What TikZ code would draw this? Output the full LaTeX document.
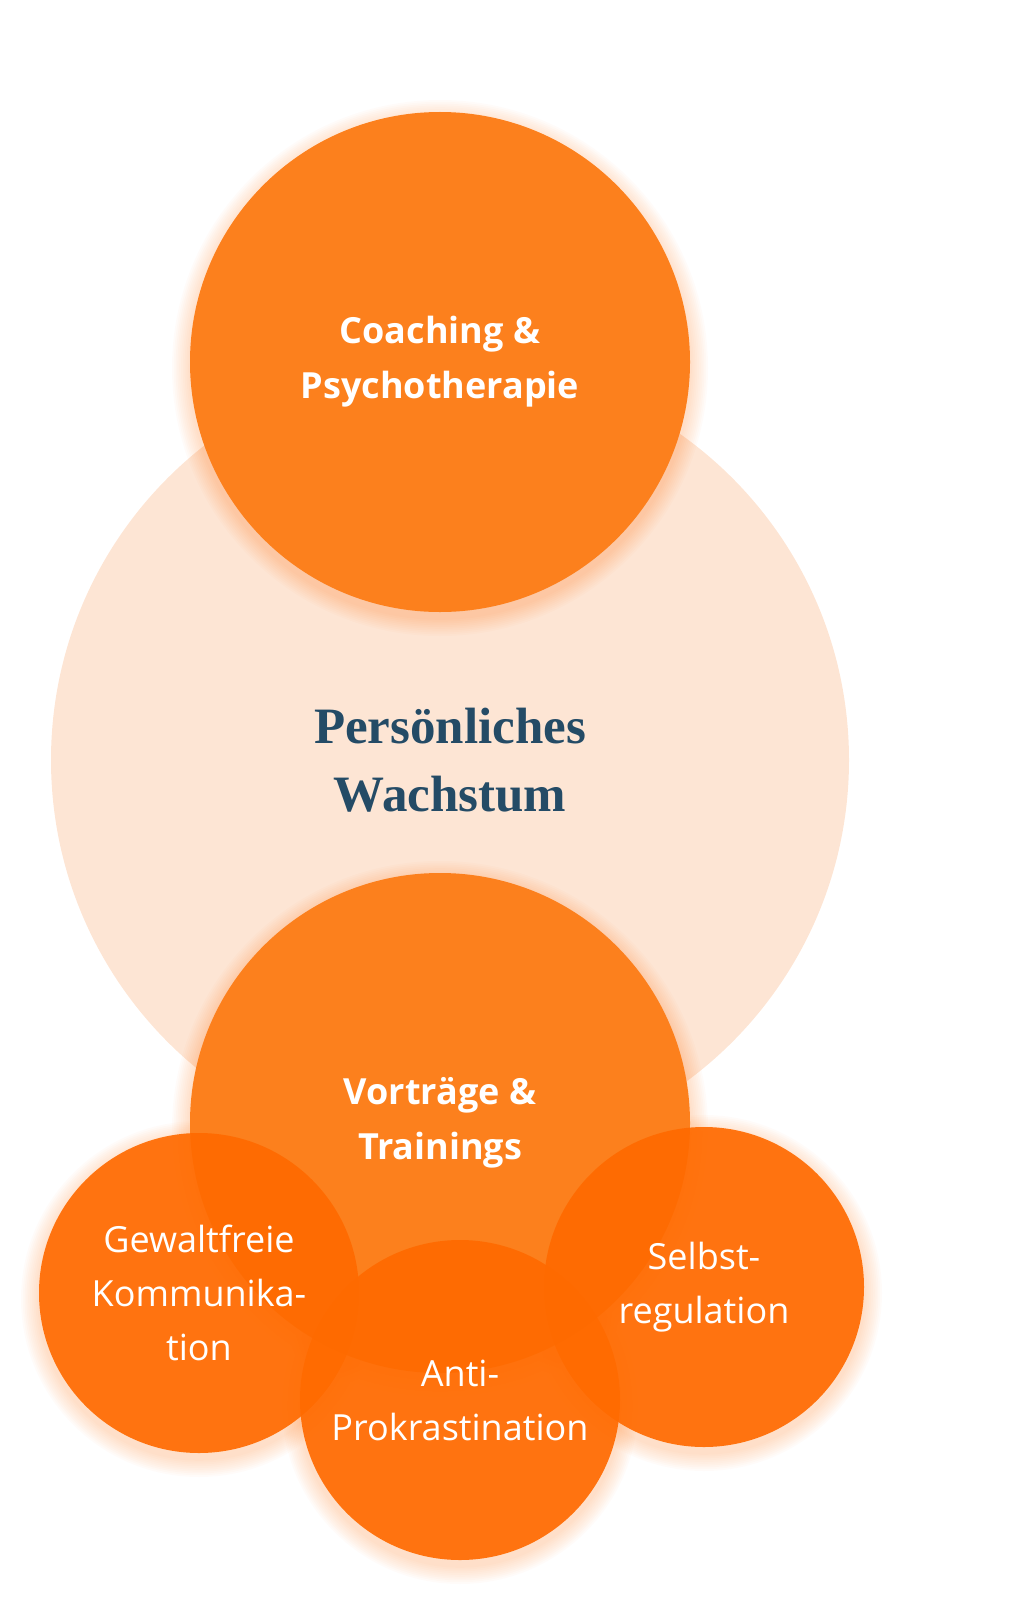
\documentclass[tikz,border=0pt]{standalone}
\usepackage{fontspec}
\setmainfont{Open Sans}
\newfontfamily\titlefont{Liberation Serif}
\usetikzlibrary{positioning}

\definecolor{peach}{HTML}{FDE5D4}
\definecolor{carrot}{HTML}{FC801D}
\definecolor{ember}{HTML}{FF6A00}
\definecolor{ink}{HTML}{244B66}

\tikzset{
  hubcircle/.style={circle, fill=peach, minimum size=798pt, inner sep=0pt, text=ink, align=center,
    font=\titlefont\bfseries\fontsize{51}{68}\selectfont},
  bigcircle/.style={circle, fill=carrot, minimum size=500pt, inner sep=0pt, text=white, align=center,
    font=\bfseries\fontsize{36}{55}\selectfont},
  smallcircle/.style={circle, fill=ember, fill opacity=0.92, text opacity=1, minimum size=320pt,
    inner sep=0pt, text=white, align=center, font=\fontsize{36}{54}\selectfont},
  glow/.style={fill=ember, opacity=0.025}
}

\begin{document}
\begin{tikzpicture}[x=1pt, y=-1pt]

\useasboundingbox (0,0) rectangle (1009,1605);

\coordinate (hubc) at (450,760);
\coordinate (coachc) at (440,362);
\coordinate (talkc) at (440,1123);
\coordinate (gfkc) at (199,1293);
\coordinate (antic) at (460,1400);
\coordinate (selfc) at (704,1287);

\node [hubcircle] (hub) at (hubc) {Persönliches\\ Wachstum};

% soft glow under the orange circles
\foreach \p/\r in {coachc/250, talkc/250, gfkc/160, antic/160, selfc/160}
  \foreach \k in {1,...,10}
    \fill [glow] ([yshift=-6pt]\p) circle ({\r+1.8*\k pt});

\node [bigcircle] (coach) at (coachc) {Coaching \&\\ Psychotherapie};
\node [bigcircle] (talk) at (talkc) {Vorträge \&\\ Trainings};

\node [smallcircle] (gfk) at (gfkc) {Gewaltfreie\\ Kommunika-\\ tion};
\node [smallcircle] (self) at (selfc) {Selbst-\\ regulation};
\node [smallcircle] (anti) at (antic) {Anti-\\ Prokrastination};

\end{tikzpicture}
\end{document}
